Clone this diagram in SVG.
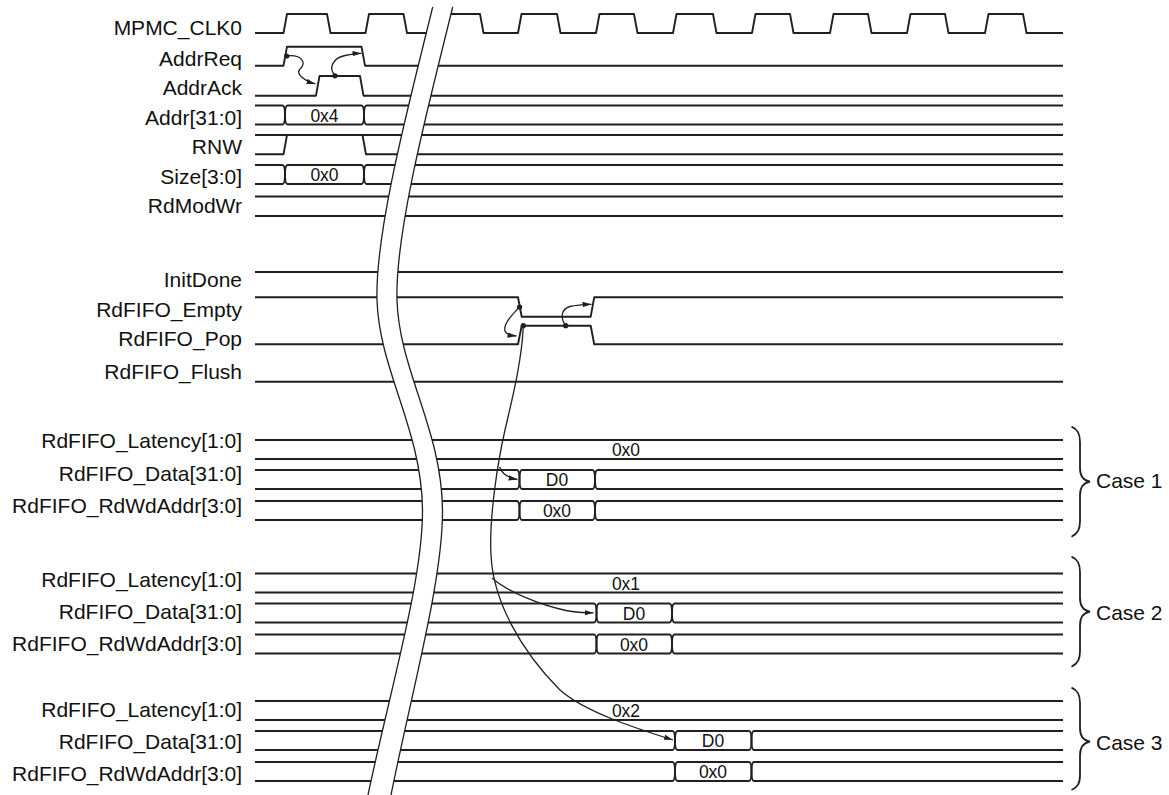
<svg xmlns="http://www.w3.org/2000/svg" width="1169" height="795" viewBox="0 0 1169 795">
<style>
.lbl{font-family:"Liberation Sans",Arial,sans-serif;font-size:21px;fill:#111;text-anchor:end}
.val{font-family:"Liberation Sans",Arial,sans-serif;font-size:17.5px;fill:#111;text-anchor:middle}
.case{font-family:"Liberation Sans",Arial,sans-serif;font-size:21px;fill:#111}
.sig{fill:none;stroke:#231f20;stroke-width:1.9;stroke-linejoin:round}
.brk{fill:none;stroke:#231f20;stroke-width:1.3}
.arr{fill:none;stroke:#231f20;stroke-width:1.3;marker-end:url(#ah)}
.dot{fill:#231f20}
.brace{fill:none;stroke:#231f20;stroke-width:1.8}
</style>
<defs>
<marker id="ah" viewBox="0 0 9 6" refX="9" refY="3" markerWidth="9" markerHeight="6" markerUnits="userSpaceOnUse" orient="auto">
<path d="M0,0.3 L9,3 L0,5.7 Z" fill="#231f20"/>
</marker>
</defs>
<rect width="1169" height="795" fill="#fff"/>

<g id="sig-clk">
<text class="lbl" x="242" y="35">MPMC_CLK0</text>
<path class="sig" d="M255,33 L283.5,33 L287,14 L327,14 L330.5,33 L365.5,33 L369,14 L403.5,14 L407,33 L438,33 L440,14 L480,14 L483.5,33 L518,33 L521.5,14 L557,14 L560.5,33 L596,33 L599.5,14 L634,14 L637.5,33 L673,33 L676.5,14 L713,14 L716.5,33 L752,33 L755.5,14 L790,14 L793.5,33 L830,33 L833.5,14 L868,14 L871.5,33 L907,33 L910.5,14 L945,14 L948.5,33 L985,33 L988.5,14 L1023,14 L1026.5,33 L1063,33"/>
</g>
<g id="sig-addrreq">
<text class="lbl" x="242" y="65.5">AddrReq</text>
<path class="sig" d="M255,65.7 L283.5,65.7 L287,46.7 L361.5,46.7 L365,65.7 L1063,65.7"/>
</g>
<g id="sig-addrack">
<text class="lbl" x="242" y="95">AddrAck</text>
<path class="sig" d="M255,95.7 L316,95.7 L319.5,76 L360,76 L363.5,95.7 L1063,95.7"/>
</g>
<g id="sig-addr">
<text class="lbl" x="242" y="124.5">Addr[31:0]</text>
<path class="sig" d="M255,105.5 L282.5,105.5 Q285,105.5 285,115 Q285,124.5 282.5,124.5 L255,124.5"/>
<path class="sig" d="M287.5,105.5 L361.5,105.5 Q364,105.5 364,115 Q364,124.5 361.5,124.5 L287.5,124.5 Q285,124.5 285,115 Q285,105.5 287.5,105.5 Z"/>
<path class="sig" d="M1063,105.5 L366.5,105.5 Q364,105.5 364,115 Q364,124.5 366.5,124.5 L1063,124.5"/>
<text class="val" x="324.5" y="121.5">0x4</text>
</g>
<g id="sig-rnw">
<text class="lbl" x="242" y="154">RNW</text>
<path class="sig" d="M255,135 L1063,135"/>
<path class="sig" d="M255,154.3 L283.5,154.3 L287,135 M362.5,135 L366,154.3 L1063,154.3"/>
</g>
<g id="sig-size">
<text class="lbl" x="242" y="183.5">Size[3:0]</text>
<path class="sig" d="M255,165 L282.5,165 Q285,165 285,174.5 Q285,184 282.5,184 L255,184"/>
<path class="sig" d="M287.5,165 L361.5,165 Q364,165 364,174.5 Q364,184 361.5,184 L287.5,184 Q285,184 285,174.5 Q285,165 287.5,165 Z"/>
<path class="sig" d="M1063,165 L366.5,165 Q364,165 364,174.5 Q364,184 366.5,184 L1063,184"/>
<text class="val" x="324.5" y="181">0x0</text>
</g>
<g id="sig-rdmodwr">
<text class="lbl" x="242" y="213.3">RdModWr</text>
<path class="sig" d="M255,196.5 L1063,196.5 M255,216 L1063,216"/>
</g>
<g id="sig-initdone">
<text class="lbl" x="242" y="286.7">InitDone</text>
<path class="sig" d="M255,272 L1063,272"/>
</g>
<g id="sig-empty">
<text class="lbl" x="242" y="316.7">RdFIFO_Empty</text>
<path class="sig" d="M255,297.3 L518,297.3 L521.7,316.7 L590.7,316.7 L594.2,297.3 L1063,297.3"/>
</g>
<g id="sig-pop">
<text class="lbl" x="242" y="345.7">RdFIFO_Pop</text>
<path class="sig" d="M255,344.3 L518,344.3 L521.7,325.7 L590.7,325.7 L594.2,344.3 L1063,344.3"/>
</g>
<g id="sig-flush">
<text class="lbl" x="242" y="379.3">RdFIFO_Flush</text>
<path class="sig" d="M255,381.7 L1063,381.7"/>
</g>

<g id="case1">
<text class="lbl" x="242" y="447.5">RdFIFO_Latency[1:0]</text>
<path class="sig" d="M255,440 L1063,440 M255,459 L1063,459"/>
<text class="val" x="626" y="456">0x0</text>
<text class="lbl" x="242" y="480.5">RdFIFO_Data[31:0]</text>
<path class="sig" d="M255,470 L517,470 Q519.5,470 519.5,479.5 Q519.5,489 517,489 L255,489"/>
<path class="sig" d="M522,470 L592.5,470 Q595,470 595,479.5 Q595,489 592.5,489 L522,489 Q519.5,489 519.5,479.5 Q519.5,470 522,470 Z"/>
<path class="sig" d="M1063,470 L597.5,470 Q595,470 595,479.5 Q595,489 597.5,489 L1063,489"/>
<text class="val" x="557" y="486">D0</text>
<text class="lbl" x="242" y="512.5">RdFIFO_RdWdAddr[3:0]</text>
<path class="sig" d="M255,501 L517,501 Q519.5,501 519.5,510.5 Q519.5,520 517,520 L255,520"/>
<path class="sig" d="M522,501 L592.5,501 Q595,501 595,510.5 Q595,520 592.5,520 L522,520 Q519.5,520 519.5,510.5 Q519.5,501 522,501 Z"/>
<path class="sig" d="M1063,501 L597.5,501 Q595,501 595,510.5 Q595,520 597.5,520 L1063,520"/>
<text class="val" x="557" y="517">0x0</text>
<path class="brace" d="M1071.5,426.7 C1078,429.5 1080,434 1080,442 L1080,468 C1080,476 1084,480.7 1090,481.7 C1084,482.7 1080,487.5 1080,495.5 L1080,521 C1080,529 1078,533.5 1071.5,536.7"/>
<text class="case" x="1096" y="488">Case 1</text>
</g>

<g id="case2">
<text class="lbl" x="242" y="586.5">RdFIFO_Latency[1:0]</text>
<path class="sig" d="M255,573.5 L1063,573.5 M255,592.5 L1063,592.5"/>
<text class="val" x="626" y="589.5">0x1</text>
<text class="lbl" x="242" y="618.5">RdFIFO_Data[31:0]</text>
<path class="sig" d="M255,603.5 L594,603.5 Q596.5,603.5 596.5,613 Q596.5,622.5 594,622.5 L255,622.5"/>
<path class="sig" d="M599,603.5 L669.5,603.5 Q672,603.5 672,613 Q672,622.5 669.5,622.5 L599,622.5 Q596.5,622.5 596.5,613 Q596.5,603.5 599,603.5 Z"/>
<path class="sig" d="M1063,603.5 L674.5,603.5 Q672,603.5 672,613 Q672,622.5 674.5,622.5 L1063,622.5"/>
<text class="val" x="634" y="619.5">D0</text>
<text class="lbl" x="242" y="650.5">RdFIFO_RdWdAddr[3:0]</text>
<path class="sig" d="M255,634.5 L594,634.5 Q596.5,634.5 596.5,644 Q596.5,653.5 594,653.5 L255,653.5"/>
<path class="sig" d="M599,634.5 L669.5,634.5 Q672,634.5 672,644 Q672,653.5 669.5,653.5 L599,653.5 Q596.5,653.5 596.5,644 Q596.5,634.5 599,634.5 Z"/>
<path class="sig" d="M1063,634.5 L674.5,634.5 Q672,634.5 672,644 Q672,653.5 674.5,653.5 L1063,653.5"/>
<text class="val" x="634" y="650.5">0x0</text>
<path class="brace" d="M1071.5,556.7 C1078,559.5 1080,564 1080,572 L1080,598 C1080,606 1084,610.7 1090,611.7 C1084,612.7 1080,617.5 1080,625.5 L1080,651 C1080,659 1078,663.5 1071.5,666.7"/>
<text class="case" x="1096" y="620">Case 2</text>
</g>

<g id="case3">
<text class="lbl" x="242" y="716.5">RdFIFO_Latency[1:0]</text>
<path class="sig" d="M255,701 L1063,701 M255,720 L1063,720"/>
<text class="val" x="626" y="717">0x2</text>
<text class="lbl" x="242" y="748.5">RdFIFO_Data[31:0]</text>
<path class="sig" d="M255,731 L672.5,731 Q675,731 675,740.5 Q675,750 672.5,750 L255,750"/>
<path class="sig" d="M677.5,731 L749,731 Q751.5,731 751.5,740.5 Q751.5,750 749,750 L677.5,750 Q675,750 675,740.5 Q675,731 677.5,731 Z"/>
<path class="sig" d="M1063,731 L754,731 Q751.5,731 751.5,740.5 Q751.5,750 754,750 L1063,750"/>
<text class="val" x="713" y="747">D0</text>
<text class="lbl" x="242" y="780.5">RdFIFO_RdWdAddr[3:0]</text>
<path class="sig" d="M255,762 L672.5,762 Q675,762 675,771.5 Q675,781 672.5,781 L255,781"/>
<path class="sig" d="M677.5,762 L749,762 Q751.5,762 751.5,771.5 Q751.5,781 749,781 L677.5,781 Q675,781 675,771.5 Q675,762 677.5,762 Z"/>
<path class="sig" d="M1063,762 L754,762 Q751.5,762 751.5,771.5 Q751.5,781 754,781 L1063,781"/>
<text class="val" x="713" y="778">0x0</text>
<path class="brace" d="M1071.5,687.7 C1078,690.5 1080,695 1080,703 L1080,728 C1080,736 1084,740.7 1090,741.7 C1084,742.7 1080,747.5 1080,755.5 L1080,775 C1080,783 1078,787 1071.5,790"/>
<text class="case" x="1096" y="750">Case 3</text>
</g>

<g id="time-break">
<path fill="#fff" stroke="none" d="M432.7,7 C410,100 375,230 377,300 C379,370 422,430 422.5,510 C423,580 390,690 368,795 L391,795 C412,690 443,580 442.5,510 C442,430 399,370 397,300 C395,230 430,100 452.7,7 Z"/>
<path class="brk" d="M432.7,7 C410,100 375,230 377,300 C379,370 422,430 422.5,510 C423,580 390,690 368,795"/>
<path class="brk" d="M452.7,7 C430,100 395,230 397,300 C399,370 442,430 442.5,510 C443,580 412,690 391,795"/>
</g>

<g id="connectors">
<path class="arr" d="M286.7,56 C300,54 308,62 300,69 C295,74 305,81 315.5,84"/>
<circle class="dot" cx="286.7" cy="56" r="2.6"/>
<path class="arr" d="M335,75.5 C328,68 333,58 345,55.5 C350,54.5 356,53.5 361.5,53.3"/>
<circle class="dot" cx="335" cy="75.8" r="2.6"/>
<path class="arr" d="M519.5,307 C512,315 503,324 505,331 C506,334 511,335.5 516.5,336"/>
<circle class="dot" cx="519.6" cy="307" r="2.6"/>
<path class="arr" d="M565.7,325.7 C560,318 561,309 570,306.5 C576,305 584,304.5 591.5,304.3"/>
<circle class="dot" cx="565.7" cy="325.7" r="2.6"/>
<path class="arr" d="M523.3,325.7 C522,360 512,400 505,430 C497,465 489,520 491,555 C493,600 520,650 560,690 C585,712 635,728 673,740"/>
<circle class="dot" cx="523.3" cy="325.7" r="2.6"/>
<path class="arr" d="M499.6,467 C502,474 509,478 517.5,479.5"/>
<path class="arr" d="M492,578 C508,592 540,605 566,610.5 C576,612.5 585,612.8 593.5,612.8"/>
</g>
</svg>
